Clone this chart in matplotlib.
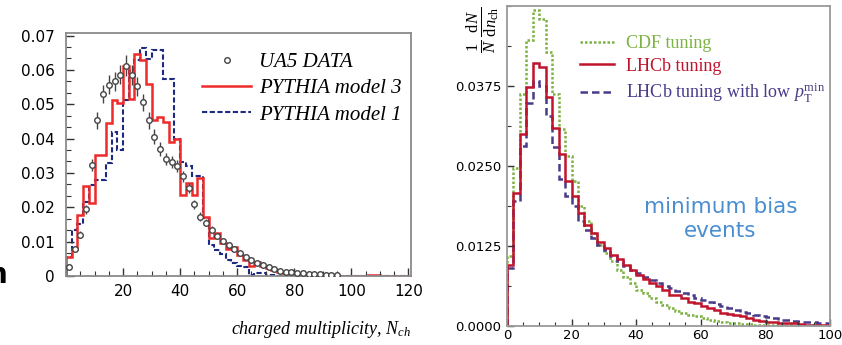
import numpy as np
import matplotlib
matplotlib.use("Agg")
from matplotlib import pyplot as plt
from matplotlib.lines import Line2D
from matplotlib.ticker import MultipleLocator, FuncFormatter

plt.rcParams['mathtext.fontset'] = 'custom'
plt.rcParams['mathtext.rm'] = 'Liberation Serif'
plt.rcParams['mathtext.it'] = 'Liberation Serif:italic'

# ---- left panel: UA5 charged multiplicity vs PYTHIA ----
edges_l = np.arange(0, 122, 2)

model3 = [0.0056, 0.0080, 0.0178, 0.0262, 0.0212, 0.0352, 0.0352, 0.0445, 0.0512, 0.0505,
          0.0610, 0.0515, 0.0645, 0.0630, 0.0560, 0.0455, 0.0462, 0.0448, 0.0390, 0.0400,
          0.0236, 0.0270, 0.0236, 0.0285, 0.0173, 0.0110, 0.0124, 0.0095, 0.0080, 0.0084,
          0.0060, 0.0047, 0.0028, 0.0040, 0.0030, 0.0022, 0.0018, 0.0013, 0.0006, 0.0006,
          0.0004, 0.0003, 0.0002, 0.0002, 0.0001, 0, 0, 0, 0, 0,
          0, 0, 0, 0.0003, 0.0002, 0, 0, 0, 0, 0]

model1 = [0.0056, 0.0135, 0.0150, 0.0215, 0.0265, 0.0278, 0.0278, 0.0330, 0.0418, 0.0366,
          0.0513, 0.0596, 0.0630, 0.0664, 0.0632, 0.0657, 0.0657, 0.0574, 0.0574, 0.0400,
          0.0333, 0.0320, 0.0290, 0.0290, 0.0168, 0.0090, 0.0076, 0.0064, 0.0047, 0.0037,
          0.0030, 0.0025, 0.0003, 0.0008, 0.0008, 0.0004, 0.0002, 0.0001, 0, 0,
          0, 0, 0, 0, 0, 0, 0, 0, 0, 0,
          0, 0, 0, 0, 0, 0, 0, 0, 0, 0]

ua5_n = np.arange(1, 97, 2)
ua5_y = [0.0027, 0.0078, 0.0120, 0.0194, 0.0324, 0.0453, 0.0530, 0.0557, 0.0567, 0.0586,
         0.0612, 0.0585, 0.0552, 0.0506, 0.0453, 0.0406, 0.0370, 0.0340, 0.0332, 0.0320,
         0.0290, 0.0256, 0.0209, 0.0173, 0.0155, 0.0135, 0.0116, 0.0103, 0.0090, 0.0078,
         0.0067, 0.0056, 0.0046, 0.0038, 0.0031, 0.0025, 0.0020, 0.0016, 0.0013, 0.0011,
         0.0009, 0.0008, 0.0007, 0.0006, 0.0005, 0.0004, 0.0003, 0.0002]
ua5_err = [0.0005, 0.0008, 0.0010, 0.0013, 0.0018, 0.0025, 0.0025, 0.0027, 0.0028, 0.0028,
           0.0030, 0.0028, 0.0027, 0.0025, 0.0024, 0.0022, 0.0020, 0.0018, 0.0017, 0.0017,
           0.0016, 0.0015, 0.0013, 0.0012, 0.0010, 0.0010, 0.0009, 0.0008, 0.0007, 0.0006,
           0.0006, 0.0005, 0.0004, 0.0004, 0.0003, 0.0003, 0.0003, 0.0002, 0.0002, 0.0002,
           0.0002, 0.0002, 0.0002, 0.0002, 0.0002, 0.0002, 0.0002, 0.0002]

# ---- right panel: LHCb tunings ----
edges_r = np.arange(0, 102, 2)

cdf = [0.0109, 0.0247, 0.0362, 0.0446, 0.0493, 0.0480, 0.0428, 0.0362, 0.0307, 0.0266,
       0.0226, 0.0187, 0.0164, 0.0145, 0.0127, 0.0114, 0.0101, 0.0088, 0.0077, 0.0067,
       0.0056, 0.0051, 0.0043, 0.0038, 0.0033, 0.0028, 0.0024, 0.0020, 0.0017, 0.0015,
       0.0012, 0.0009, 0.0008, 0.0006, 0.0005, 0.0004, 0.0003, 0.0003, 0.0002, 0.0002,
       0.0001, 0.0001, 0.0001, 0.0001, 0, 0, 0, 0, 0, 0]
lhcb = [0.0096, 0.0208, 0.0300, 0.0373, 0.0410, 0.0404, 0.0357, 0.0310, 0.0268, 0.0226,
        0.0203, 0.0177, 0.0158, 0.0145, 0.0132, 0.0122, 0.0111, 0.0104, 0.0096, 0.0088,
        0.0080, 0.0073, 0.0067, 0.0062, 0.0056, 0.0049, 0.0049, 0.0043, 0.0038, 0.0036,
        0.0031, 0.0028, 0.0025, 0.0021, 0.0019, 0.0017, 0.0015, 0.0013, 0.0010, 0.0008,
        0.0007, 0.0006, 0.0005, 0.0004, 0.0004, 0.0003, 0.0002, 0.0002, 0.0001, 0.0001]
lhcb_low = [0.0090, 0.0195, 0.0281, 0.0348, 0.0383, 0.0375, 0.0328, 0.0279, 0.0229, 0.0203,
            0.0187, 0.0164, 0.0150, 0.0138, 0.0127, 0.0119, 0.0109, 0.0101, 0.0093, 0.0088,
            0.0083, 0.0077, 0.0072, 0.0067, 0.0063, 0.0059, 0.0055, 0.0051, 0.0049, 0.0044,
            0.0041, 0.0038, 0.0035, 0.0031, 0.0028, 0.0025, 0.0022, 0.0020, 0.0017, 0.0016,
            0.0014, 0.0012, 0.0010, 0.0009, 0.0008, 0.0007, 0.0006, 0.0006, 0.0005, 0.0004]

fig = plt.figure(figsize=(8.42, 3.45), dpi=100)
serif_it = dict(family='Liberation Serif', style='italic')

# left axes
ax1 = fig.add_axes([0.0784, 0.20, 0.410, 0.704])
ax1.stairs(model1, edges_l, color='#1c2a80', lw=1.5, ls=(0, (2.5, 1.2)), baseline=0)
ax1.stairs(model3, edges_l, color='#ee2a2a', lw=1.8, baseline=0)
ax1.errorbar(ua5_n, ua5_y, yerr=ua5_err, fmt='o', ms=4, mfc='white', mec='#444444',
             mew=1.0, ecolor='#444444', elinewidth=1.0, capsize=0, zorder=5)
ax1.set_xlim(0, 121)
ax1.set_ylim(0, 0.0707)
ax1.xaxis.set_major_locator(MultipleLocator(20))
ax1.xaxis.set_minor_locator(MultipleLocator(5))
ax1.yaxis.set_major_locator(MultipleLocator(0.01))
ax1.yaxis.set_minor_locator(MultipleLocator(0.01 / 3))
ax1.yaxis.set_major_formatter(FuncFormatter(lambda v, p: '0' if abs(v) < 1e-9 else f'{v:.2f}'))
ax1.xaxis.set_major_formatter(FuncFormatter(lambda v, p: '' if v == 0 else f'{v:.0f}'))
ax1.tick_params(which='both', direction='in', top=False, right=False, color='#333333')
ax1.tick_params(which='major', length=6, labelsize=11, width=1)
ax1.tick_params(which='minor', length=3.5, width=0.8)
ax1.tick_params(axis='y', pad=8)
ax1.tick_params(axis='x', pad=6)
for s in ax1.spines.values():
    s.set_color('#8a8a8a')
    s.set_linewidth(1.3)
ax1.set_xlabel(r'charged multiplicity, $N_{ch}$', fontsize=13, ha='right', x=1.0,
               labelpad=14, **serif_it)

h_data = Line2D([], [], ls='none', marker='o', ms=4, mfc='white', mec='#444444')
h_m3 = Line2D([], [], color='#ee2a2a', lw=1.8)
h_m1 = Line2D([], [], color='#1c2a80', lw=1.5, ls=(0, (2.5, 1.2)))
ax1.legend([h_data, h_m3, h_m1], ['UA5 DATA', 'PYTHIA model 3', 'PYTHIA model 1'],
           loc='upper left', bbox_to_anchor=(0.394, 0.92), frameon=False, borderpad=0,
           borderaxespad=0, handlelength=2.35, handletextpad=0.4, labelspacing=0.32,
           prop=dict(family='Liberation Serif', style='italic', size=15))

# cut-off letter at the left edge of the slide
fig.text(0.0085, 0.18, 'n', fontsize=20, fontweight='bold', ha='right', va='baseline',
         color='black')

# right axes
ax2 = fig.add_axes([0.602, 0.055, 0.384, 0.928])
ax2.stairs(cdf, edges_r, color='#7db343', lw=1.8, ls=(0, (1, 0.8)), baseline=0)
ax2.stairs(lhcb_low, edges_r, color='#4a3a8a', lw=1.8, ls=(0, (3, 1.6)), baseline=0)
ax2.stairs(lhcb, edges_r, color='#c0142c', lw=1.8, baseline=0)
ax2.set_xlim(0, 100)
ax2.set_ylim(0, 0.05)
ax2.xaxis.set_major_locator(MultipleLocator(20))
ax2.xaxis.set_minor_locator(MultipleLocator(5))
ax2.set_yticks([0, 0.0125, 0.025, 0.0375])
ax2.yaxis.set_minor_locator(MultipleLocator(0.00625))
ax2.yaxis.set_major_formatter(FuncFormatter(lambda v, p: f'{v:.4f}'))
ax2.tick_params(which='both', direction='in', top=False, right=False, color='#333333')
ax2.tick_params(which='major', length=5, labelsize=9.5, width=1)
ax2.tick_params(which='minor', length=3, width=0.8)
ax2.tick_params(axis='y', pad=4)
ax2.tick_params(axis='x', pad=2)
for s in ax2.spines.values():
    s.set_color('#9a9a9a')
    s.set_linewidth(1.3)
ax2.text(-0.072, 1.0, r'$\frac{1}{N}\,\frac{\mathrm{d}N}{\mathrm{d}n_{\mathrm{ch}}}$',
         transform=ax2.transAxes, rotation=90, ha='center', va='top', fontsize=17)

h_cdf = Line2D([], [], color='#7db343', lw=1.8, ls=(0, (1, 0.8)))
h_lhcb = Line2D([], [], color='#c0142c', lw=1.8)
h_low = Line2D([], [], color='#4a3a8a', lw=1.8, ls=(0, (3, 1.6)))
leg = ax2.legend([h_cdf, h_lhcb, h_low],
                 ['CDF tuning', 'LHCb tuning', r'LHCb tuning with low $p_{\mathrm{T}}^{\mathrm{min}}$'],
                 loc='upper left', bbox_to_anchor=(0.226, 0.908), frameon=False, borderpad=0,
                 borderaxespad=0, handlelength=1.9, handletextpad=0.65, labelspacing=0.3,
                 prop=dict(family='Liberation Serif', size=13))
for t, c in zip(leg.get_texts(), ['#7db343', '#c0142c', '#4a3a8a']):
    t.set_color(c)

ax2.text(0.66, 0.334, 'minimum bias\nevents', transform=ax2.transAxes, ha='center',
         va='center', fontsize=15.5, color='#4a8ed0', linespacing=1.2)

fig.savefig('out.png', dpi=100)
